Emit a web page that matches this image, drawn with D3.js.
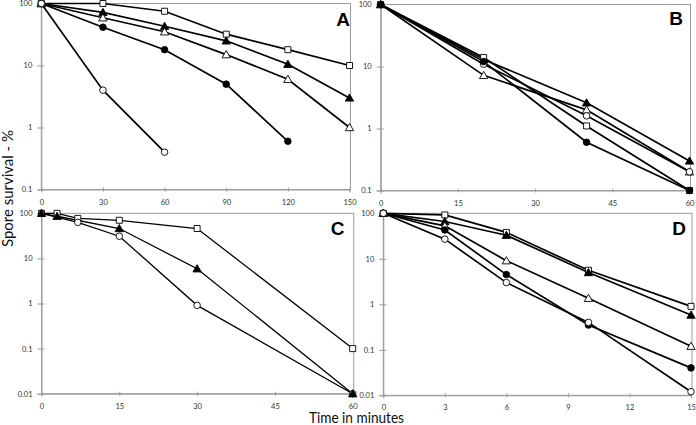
<!DOCTYPE html>
<html>
<head>
<meta charset="utf-8">
<script src="https://cdn.jsdelivr.net/npm/d3@7"></script>
<style>
  html, body { margin: 0; padding: 0; background: #fff; }
  svg { display: block; }
</style>
</head>
<body>
<svg id="chart" width="696" height="425"></svg>
<script>
// ---------- DATA ----------
const panelA_time = [0, 30, 60, 90, 120, 150];
const panelA_openSquare = [100, 100, 75, 32, 18, 10];
const panelA_filledTriangle = [100, 72, 43, 25, 10.5, 3];
const panelA_openTriangle = [100, 59, 35, 15, 6, 1];
const panelA_filledCircle = [100, 41.5, 18, 5, 0.6];
const panelA_openCircle = [100, 4, 0.4];
const panelA_xTicks = [0, 30, 60, 90, 120, 150];

const panelB_time = [0, 20, 40, 60];
const panelB_filledTriangle = [100, 13, 2.6, 0.3];
const panelB_openTriangle = [100, 7.2, 2.0, 0.2];
const panelB_openCircle = [100, 10.9, 1.6, 0.2];
const panelB_openSquare = [100, 14, 1.1, 0.1];
const panelB_filledCircle = [100, 12, 0.6, 0.1];
const panelB_xTicks = [0, 15, 30, 45, 60];

const panelC_squareTime = [0, 3, 7, 15, 30, 60];
const panelC_openSquare = [100, 100, 77, 70, 46, 0.1];
const panelC_triangleTime = [0, 3, 15, 30, 60];
const panelC_filledTriangle = [100, 86, 46, 5.9, 0.01];
const panelC_circleTime = [0, 7, 15, 30, 60];
const panelC_openCircle = [100, 63, 31, 0.91, 0.01];
const panelC_xTicks = [0, 15, 30, 45, 60];

const panelD_time = [0, 3, 6, 10, 15];
const panelD_openSquare = [100, 92, 38, 5.6, 0.9];
const panelD_filledTriangle = [100, 66, 33, 5.0, 0.58];
const panelD_openTriangle = [100, 53, 9.1, 1.36, 0.12];
const panelD_filledCircle = [100, 43, 4.5, 0.35, 0.04];
const panelD_openCircle = [100, 27, 3.0, 0.4, 0.012];
const panelD_xTicks = [0, 3, 6, 9, 12, 15];

const yTicks3 = [0.1, 1, 10, 100];
const yTicks4 = [0.01, 0.1, 1, 10, 100];

const yTitle = "Spore survival - %";
const xTitle = "Time in minutes";

// ---------- LAYOUT ----------
const zip = (xs, ys) => ys.map((v, i) => ({x: xs[i], y: v}));

const panels = [
  { letter: "A", box: {l: 41.3, r: 349.5, t: 3.5, b: 189.5}, xDomain: [0, 150], yDomain: [0.1, 100],
    xTicks: panelA_xTicks, yTicks: yTicks3, lw: 1.7, letterPos: [350, 26],
    series: [
      {shape: "square", fill: false, pts: zip(panelA_time, panelA_openSquare)},
      {shape: "triangle", fill: true, pts: zip(panelA_time, panelA_filledTriangle)},
      {shape: "triangle", fill: false, pts: zip(panelA_time, panelA_openTriangle)},
      {shape: "circle", fill: true, pts: zip(panelA_time, panelA_filledCircle)},
      {shape: "circle", fill: false, pts: zip(panelA_time, panelA_openCircle)}
    ]},
  { letter: "B", box: {l: 380.7, r: 689.5, t: 4.5, b: 190.5}, xDomain: [0, 60], yDomain: [0.1, 100],
    xTicks: panelB_xTicks, yTicks: yTicks3, lw: 1.7, letterPos: [683, 24.5],
    series: [
      {shape: "triangle", fill: true, pts: zip(panelB_time, panelB_filledTriangle)},
      {shape: "triangle", fill: false, pts: zip(panelB_time, panelB_openTriangle)},
      {shape: "circle", fill: false, pts: zip(panelB_time, panelB_openCircle)},
      {shape: "square", fill: false, pts: zip(panelB_time, panelB_openSquare)},
      {shape: "circle", fill: true, pts: zip(panelB_time, panelB_filledCircle)}
    ]},
  { letter: "C", box: {l: 41.5, r: 352.7, t: 213.3, b: 393.7}, xDomain: [0, 60], yDomain: [0.01, 100],
    xTicks: panelC_xTicks, yTicks: yTicks4, lw: 1.3, letterPos: [344.5, 235],
    series: [
      {shape: "square", fill: false, pts: zip(panelC_squareTime, panelC_openSquare)},
      {shape: "circle", fill: false, pts: zip(panelC_circleTime, panelC_openCircle)},
      {shape: "triangle", fill: true, pts: zip(panelC_triangleTime, panelC_filledTriangle)}
    ]},
  { letter: "D", box: {l: 383.3, r: 691, t: 213.3, b: 395.3}, xDomain: [0, 15], yDomain: [0.01, 100],
    xTicks: panelD_xTicks, yTicks: yTicks4, lw: 1.7, letterPos: [686, 235],
    series: [
      {shape: "square", fill: false, pts: zip(panelD_time, panelD_openSquare)},
      {shape: "triangle", fill: true, pts: zip(panelD_time, panelD_filledTriangle)},
      {shape: "triangle", fill: false, pts: zip(panelD_time, panelD_openTriangle)},
      {shape: "circle", fill: true, pts: zip(panelD_time, panelD_filledCircle)},
      {shape: "circle", fill: false, pts: zip(panelD_time, panelD_openCircle)}
    ]}
];

const svg = d3.select("#chart");
const GRAY = "#9c9c9c";
const FONT = "Lato, 'Open Sans', sans-serif";

const symbolFor = {
  square: d3.symbol().type(d3.symbolSquare).size(36),
  circle: d3.symbol().type(d3.symbolCircle).size(34),
  triangle: d3.symbol().type(d3.symbolTriangle).size(30)
};

panels.forEach(p => {
  const x = d3.scaleLinear().domain(p.xDomain).range([p.box.l, p.box.r]);
  const y = d3.scaleLog().domain(p.yDomain).range([p.box.b, p.box.t]);
  const g = svg.append("g");

  // frame
  g.append("rect")
    .attr("x", p.box.l).attr("y", p.box.t)
    .attr("width", p.box.r - p.box.l + 1).attr("height", p.box.b - p.box.t)
    .attr("fill", "none").attr("stroke", GRAY).attr("stroke-width", 1);

  // y axis
  const ya = g.append("g").attr("transform", `translate(${p.box.l},0)`)
    .call(d3.axisLeft(y).tickValues(p.yTicks).tickFormat(d => String(d)).tickSize(4).tickPadding(5));
  ya.select(".domain").attr("stroke", GRAY);
  ya.selectAll(".tick line").attr("stroke", GRAY).attr("x1", 3).attr("x2", -4);
  ya.selectAll(".tick text").attr("fill", "#333").style("font-family", FONT).style("font-size", "7.5px");

  // x axis
  const xa = g.append("g").attr("transform", `translate(0,${p.box.b})`)
    .call(d3.axisBottom(x).tickValues(p.xTicks).tickFormat(d => String(d)).tickSize(3).tickPadding(0));
  xa.select(".domain").attr("stroke", GRAY);
  xa.selectAll(".tick line").attr("stroke", GRAY).attr("y1", -2).attr("y2", 2);
  xa.selectAll(".tick text").attr("fill", "#333").attr("dy", null).attr("y", 15)
    .style("font-family", FONT).style("font-size", "7.5px");

  // series
  const line = d3.line().x(d => x(d.x)).y(d => y(d.y));
  p.series.forEach(s => {
    g.append("path").datum(s.pts).attr("d", line)
      .attr("fill", "none").attr("stroke", "#000").attr("stroke-width", p.lw);
  });
  p.series.forEach(s => {
    g.selectAll(null).data(s.pts).enter().append("path")
      .attr("d", symbolFor[s.shape])
      .attr("transform", d => `translate(${x(d.x)},${y(d.y) + (s.shape === "triangle" ? 0.8 : 0)})`)
      .attr("fill", s.fill ? "#000" : "#fff")
      .attr("stroke", "#000").attr("stroke-width", 0.9);
  });

  // panel letter
  g.append("text").attr("x", p.letterPos[0]).attr("y", p.letterPos[1])
    .attr("text-anchor", "end")
    .style("font-family", "'Liberation Sans', Arial, sans-serif")
    .style("font-weight", "bold").style("font-size", "19px")
    .text(p.letter);
});

// axis titles
svg.append("text")
  .attr("transform", "translate(13,188.5) rotate(-90)")
  .attr("text-anchor", "middle")
  .attr("textLength", 117).attr("lengthAdjust", "spacingAndGlyphs")
  .style("font-family", FONT).style("font-size", "14.5px").attr("fill", "#111")
  .text(yTitle);

svg.append("text")
  .attr("x", 356.5).attr("y", 423)
  .attr("text-anchor", "middle")
  .attr("textLength", 95).attr("lengthAdjust", "spacingAndGlyphs")
  .style("font-family", FONT).style("font-size", "14.5px").attr("fill", "#111")
  .text(xTitle);
</script>
</body>
</html>
